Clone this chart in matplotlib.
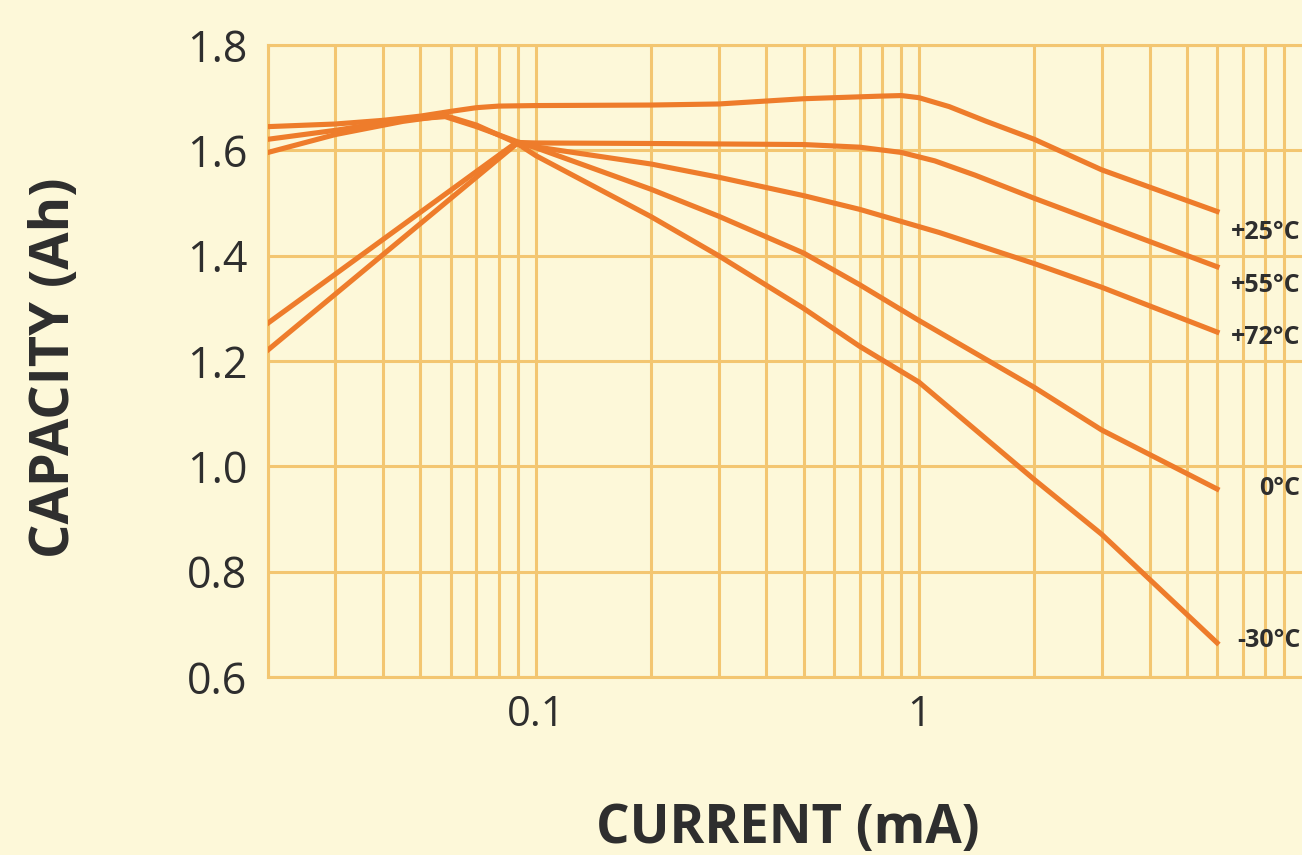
import matplotlib
matplotlib.use("Agg")
import matplotlib.pyplot as plt
from matplotlib.ticker import LogLocator, FixedLocator, NullFormatter

plt.rcParams['font.family'] = ['Open Sans', 'DejaVu Sans']

# capacity vs discharge current
cur_25 = [0.02, 0.03, 0.04, 0.05, 0.06, 0.07, 0.08, 0.1, 0.2, 0.3, 0.5, 0.8, 0.9, 1.0, 1.2, 1.5, 2.0, 3.0, 6.0]
cap_25 = [1.645, 1.650, 1.657, 1.665, 1.674, 1.681, 1.684, 1.685, 1.686, 1.688, 1.698, 1.703, 1.704, 1.700, 1.683, 1.655, 1.621, 1.563, 1.484]

cur_55 = [0.02, 0.089, 0.1, 0.2, 0.5, 0.7, 0.9, 1.1, 1.4, 2.0, 3.0, 6.0]
cap_55 = [1.272, 1.615, 1.614, 1.613, 1.611, 1.606, 1.596, 1.580, 1.553, 1.509, 1.461, 1.379]

cur_72 = [0.02, 0.089, 0.2, 0.3, 0.5, 0.7, 1.13, 2.0, 3.0, 6.0]
cap_72 = [1.221, 1.612, 1.574, 1.549, 1.514, 1.488, 1.444, 1.385, 1.340, 1.255]

cur_0 = [0.02, 0.03, 0.045, 0.058, 0.07, 0.089, 0.1, 0.2, 0.3, 0.5, 0.7, 1.0, 2.0, 3.0, 6.0]
cap_0 = [1.621, 1.638, 1.658, 1.664, 1.645, 1.617, 1.605, 1.526, 1.475, 1.405, 1.345, 1.277, 1.150, 1.069, 0.957]

cur_m30 = [0.02, 0.03, 0.045, 0.058, 0.07, 0.089, 0.1, 0.2, 0.3, 0.5, 0.7, 1.0, 2.0, 3.0, 6.0]
cap_m30 = [1.596, 1.630, 1.655, 1.666, 1.648, 1.614, 1.590, 1.474, 1.400, 1.300, 1.228, 1.160, 0.975, 0.871, 0.665]

labels = ['+25°C', '+55°C', '+72°C', '0°C', '-30°C']
curves = [(cur_25, cap_25), (cur_55, cap_55), (cur_72, cap_72), (cur_0, cap_0), (cur_m30, cap_m30)]
label_drop = [0.040, 0.035, 0.010, 0.0, -0.005]

bg = '#fdf8d9'
grid_c = '#f3c671'
line_c = '#ee7c2b'
text_c = '#2e2e2e'

fig = plt.figure(figsize=(13.02, 8.55), dpi=100, facecolor=bg)
ax = fig.add_axes([268/1302, 1 - 677/855, 1 - 268/1302, (677 - 45)/855])
ax.set_facecolor(bg)

for (x, y) in curves:
    ax.plot(x, y, color=line_c, lw=3.7, solid_joinstyle='round', zorder=3)

for lab, (x, y), d in zip(labels, curves, label_drop):
    ax.text(9.9, y[-1] - d, lab, ha='right', va='center', fontsize=18,
            fontweight='bold', color=text_c, zorder=4)

ax.set_xscale('log')
ax.set_xlim(0.02, 10)
ax.set_ylim(0.6, 1.8)

ax.xaxis.set_major_locator(FixedLocator([0.1, 1]))
ax.set_xticklabels(['0.1', '1'])
ax.xaxis.set_minor_locator(LogLocator(base=10, subs=range(2, 10)))
ax.xaxis.set_minor_formatter(NullFormatter())
ax.set_yticks([0.6, 0.8, 1.0, 1.2, 1.4, 1.6, 1.8])
ax.set_yticklabels(['0.6', '0.8', '1.0', '1.2', '1.4', '1.6', '1.8'])

ax.grid(True, which='both', color=grid_c, lw=2.2, zorder=1)
ax.set_axisbelow(True)
ax.tick_params(which='both', length=0, colors=text_c)
ax.tick_params(axis='y', labelsize=31, pad=15)
ax.tick_params(axis='x', labelsize=30, pad=12)

for side in ['left', 'bottom', 'top']:
    ax.spines[side].set_color(grid_c)
    ax.spines[side].set_linewidth(2.2)
ax.spines['right'].set_visible(False)

ax.set_xlabel('CURRENT (mA)', fontsize=38, fontweight='bold', color=text_c)
ax.xaxis.set_label_coords(0.503, -0.198)
ax.set_ylabel('CAPACITY (Ah)', fontsize=39, fontweight='bold', color=text_c)
ax.yaxis.set_label_coords(-0.18, 0.49)

fig.savefig('out.png', dpi=100, facecolor=bg)
